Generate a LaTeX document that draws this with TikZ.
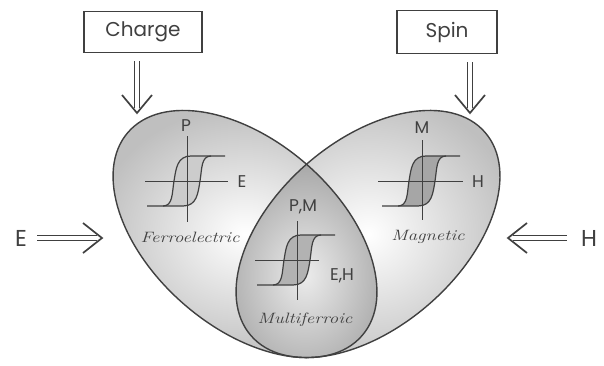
\documentclass[tikz,border=0pt]{standalone}
\usepackage{fontspec}
\newfontfamily\hand{Poppins}
\usetikzlibrary{arrows.meta}
\definecolor{ink}{HTML}{404040}
\newcommand\hystloop[2]{%
  \begin{scope}[shift={#1}]
    \fill[#2] (-24,25) .. controls (-14,25) and (-15,12) .. (-13,0)
       .. controls (-11,-12) and (-10,-25) .. (4,-25) -- (24,-25)
       .. controls (14,-25) and (15,-12) .. (13,0)
       .. controls (11,12) and (10,25) .. (-4,25) -- cycle;
    \draw[loopline] (-40,25) -- (-24,25) .. controls (-14,25) and (-15,12) .. (-13,0)
       .. controls (-11,-12) and (-10,-25) .. (4,-25) -- (38,-25);
    \draw[loopline] (-24,25) -- (-4,25) .. controls (10,25) and (11,12) .. (13,0)
       .. controls (15,-12) and (14,-25) .. (24,-25);
  \end{scope}}
\begin{document}
\begin{tikzpicture}[x=1pt,y=-1pt,
  lobe/.style={draw=ink, line width=1.4pt},
  boxlab/.style={draw=ink, line width=1.8pt, font=\hand\fontsize{20}{22}\selectfont, text=ink, inner sep=0pt},
  axlab/.style={font=\hand\fontsize{17}{18}\selectfont, text=ink, inner sep=0pt},
  sidelab/.style={font=\hand\fontsize{23}{24}\selectfont, text=ink, inner sep=0pt},
  matlab/.style={font=\fontsize{15}{16}\selectfont\itshape, text=ink, inner sep=0pt, xscale=1.25},
  axisline/.style={draw=ink, line width=1pt},
  loopline/.style={draw=ink, line width=1.2pt},
  dblshaft/.style={draw=ink, double=white, double distance=3.5pt, line width=1.4pt},
  vhead/.style={draw=ink, line width=1.7pt, line join=miter}
]
\useasboundingbox (0,0) rectangle (604,365);

% lobes
\coordinate (lc) at (245,234);
\coordinate (rc) at (368,234);
\shade[rotate around={-41:(lc)}, inner color=white, outer color=gray!50] (lc) ellipse (155 and 93);
\shade[rotate around={41:(rc)}, inner color=white, outer color=gray!50] (rc) ellipse (155 and 93);
\begin{scope}
  \clip[rotate around={-41:(lc)}] (lc) ellipse (155 and 93);
  \clip[rotate around={41:(rc)}] (rc) ellipse (155 and 93);
  \shade[inner color=gray!15, outer color=gray!70] (215,160) rectangle (395,390);
\end{scope}
\draw[lobe, rotate around={-41:(lc)}] (lc) ellipse (155 and 93);
\draw[lobe, rotate around={41:(rc)}] (rc) ellipse (155 and 93);

% ferroelectric loop
\coordinate (fc) at (187,181);
\hystloop{(fc)}{gray!40}
\draw[axisline] (145,181) -- (228,181);
\draw[axisline] (187,136) -- (187,222);
\node[axlab] (lp) at (186,126) {P};
\node[axlab] (le) at (242,182) {E};
\node[matlab] (lfe) at (190,237) {Ferroelectric};

% magnetic loop
\coordinate (mc) at (422,181);
\hystloop{(mc)}{gray!70}
\draw[axisline] (378,181) -- (463,181);
\draw[axisline] (422,140) -- (422,220);
\node[axlab] (lm) at (422,128) {M};
\node[axlab] (lh) at (478,182) {H};
\node[matlab] (lmag) at (428,237) {Magnetic};

% multiferroic loop
\coordinate (xc) at (297,260);
\hystloop{(xc)}{gray!60}
\draw[axisline] (255,260) -- (319,260);
\draw[axisline] (297,221) -- (297,300);
\node[axlab] (lpm) at (303,207) {P,M};
\node[axlab] (leh) at (342,276) {E,H};
\node[matlab] (lmf) at (305,320) {Multiferroic};

% top boxes
\node[boxlab, minimum width=118pt, minimum height=41pt] (charge) at (143,32) {Charge};
\node[boxlab, minimum width=100pt, minimum height=43pt] (spin) at (447,32) {Spin};

% top arrows
\coordinate (ct) at (137,113);
\coordinate (st) at (470,113);
\draw[dblshaft, shorten >=5pt] (charge.south -| ct) ++(0,8) -- (ct);
\draw[dblshaft, shorten >=5pt] (spin.south -| st) ++(0,8) -- (st);
\draw[vhead] (ct) ++(-15,-18) -- (ct) -- ++(15,-18);
\draw[vhead] (st) ++(-15,-18) -- (st) -- ++(15,-18);

% side arrows
\node[sidelab] (eside) at (21,238) {E};
\node[sidelab] (hside) at (589,238) {H};
\coordinate (et) at (102,238);
\coordinate (ht) at (508,238);
\draw[dblshaft, shorten >=5pt] (eside.east) ++(10,0) -- (et);
\draw[dblshaft, shorten >=5pt] (hside.west) ++(-14,0) -- (ht);
\draw[vhead] (et) ++(-19,-15) -- (et) -- ++(-19,15);
\draw[vhead] (ht) ++(19,-15) -- (ht) -- ++(19,15);
\end{tikzpicture}
\end{document}
